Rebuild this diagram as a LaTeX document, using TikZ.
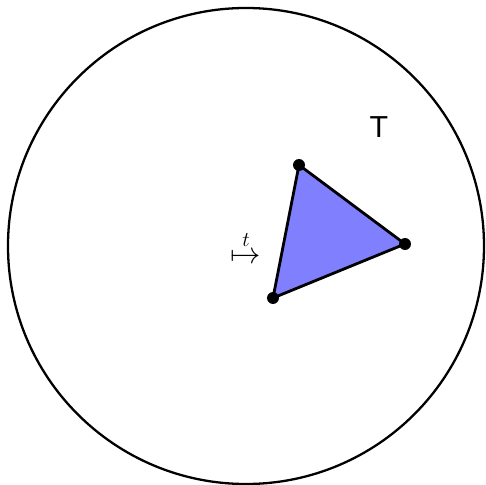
\documentclass[tikz,border=0pt]{standalone}
\usepackage{amsmath}
\usepackage{fontspec}
\setsansfont{Liberation Sans}
\usetikzlibrary{positioning,calc}
\definecolor{facefill}{HTML}{8080FF}

\tikzset{
  vertex/.style={circle, fill=black, inner sep=0pt, minimum size=0.24cm},
}

\begin{document}
\begin{tikzpicture}
    \useasboundingbox (-4.92,-4.78) rectangle (4.78,4.92);
    % Disc
    \node[circle, draw, line width=1.3pt, minimum size=9.52cm, inner sep=0pt] (disc) at (0,0) {};
    \node[font=\sffamily\LARGE] (lbl) at (2.66,2.38) {T};

    % Triangle
    \coordinate (a) at (1.06,1.62);
    \coordinate (b) at (3.18,0.04);
    \coordinate (c) at (0.54,-1.04);
    \filldraw[fill=facefill, line width=1.6pt, line join=round] (a) -- (b) -- (c) -- cycle;
    \node[vertex] (va) at (a) {};
    \node[vertex] (vb) at (b) {};
    \node[vertex] (vc) at (c) {};

    % Map
    \node[font=\LARGE, inner sep=0pt] (map) at (0,-0.02) {$\overset{t}{\mapsto}$};
\end{tikzpicture}
\end{document}
